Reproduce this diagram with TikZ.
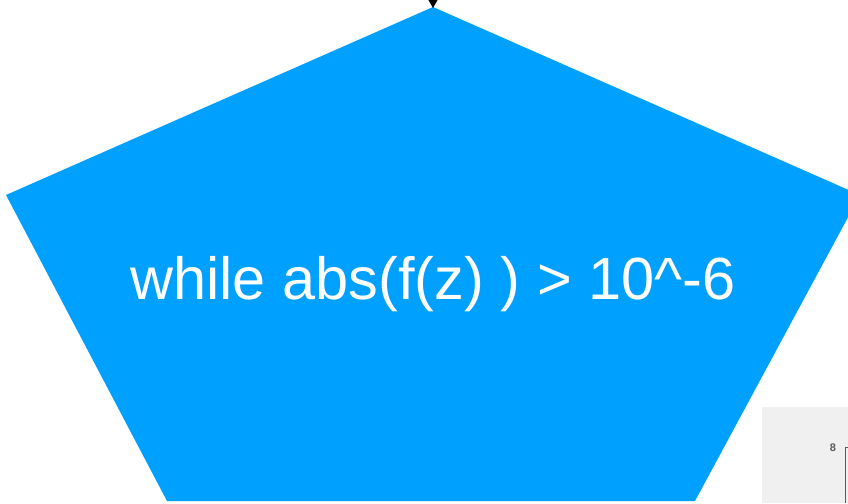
\documentclass[tikz,border=0pt]{standalone}
\usepackage{fontspec}
\setmainfont{Liberation Sans}
\usetikzlibrary{arrows.meta}
\definecolor{pentblue}{RGB}{0,160,255}
\definecolor{panelgray}{RGB}{240,240,240}
\definecolor{axisgray}{RGB}{90,90,90}
\tikzset{
  pent/.style={fill=pentblue,draw=none},
  labeltext/.style={text=white,font=\fontsize{59.5}{60}\selectfont,inner sep=0},
  flowarrow/.style={draw=black,line width=1pt,-{Triangle[width=10pt,length=9pt]}}
}
\begin{document}
\begin{tikzpicture}[x=1pt,y=-1pt]
\useasboundingbox (0,0) rectangle (848,503);
% gray panel at bottom right
\fill[panelgray] (762,407) rectangle (848,503);
\node[text=axisgray,font=\fontsize{11}{11}\selectfont\bfseries,inner sep=0] (ticklbl) at (833,448) {8};
\draw[axisgray,line width=0.8pt] (848,447) -- (845,447) -- (845,503);
% pentagon
\fill[pent] (433,7) -- (860,195) -- (695,501) -- (167,501) -- (6,195) -- cycle;
\coordinate (top) at (433,8);
\coordinate (src) at (433,-10);
\draw[flowarrow] (src) -- (top);
\node[labeltext] (cond) at (433,284) {while abs(f(z) ) > 10\^{}-6};
\end{tikzpicture}
\end{document}
